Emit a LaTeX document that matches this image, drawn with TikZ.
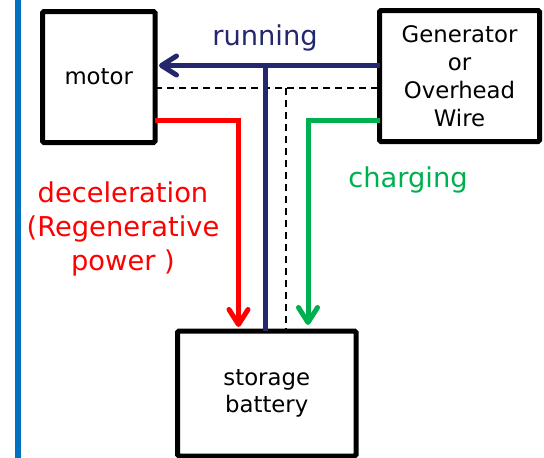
\documentclass[tikz,border=0pt]{standalone}
\usepackage{fontspec}
\setmainfont{DejaVu Sans}
\usetikzlibrary{arrows.meta}
\definecolor{navyc}{RGB}{36,38,110}
\definecolor{redc}{RGB}{255,0,0}
\definecolor{greenc}{RGB}{0,176,80}
\definecolor{bluec}{RGB}{0,112,192}
\begin{document}
\begin{tikzpicture}[x=1pt,y=-1pt,
  box/.style={draw=black,line width=5pt,rounded corners=1.5pt,inner sep=0pt,outer sep=0pt,
    align=center,font=\fontsize{22.8}{28}\selectfont},
  flow/.style={line width=5pt},
  tipa/.style={-{Straight Barb[length=15pt,width=19pt,round]}},
  dashline/.style={black,line width=1.6pt,dash pattern=on 7pt off 5pt},
  lab/.style={font=\fontsize{27.3}{34}\selectfont,align=center,inner sep=0pt}]
\useasboundingbox (0,0) rectangle (544,458);
\fill[white] (0,0) rectangle (544,458);
\draw[bluec,line width=5.5pt] (18,-5) -- (18,465);
\node[box,minimum width=112.5pt,minimum height=131pt] (motor) at (98.75,77) {motor};
\node[box,minimum width=160pt,minimum height=131pt] (gen) at (459.5,76) {Generator\\or\\Overhead\\Wire};
\node[box,minimum width=178.5pt,minimum height=125pt,font=\fontsize{22.8}{27}\selectfont] (batt) at (266.75,393.5) {storage\\battery};
\coordinate (yrun) at (0,65.5);
\coordinate (ydash) at (0,88);
\coordinate (ycol) at (0,120.5);
\coordinate (xrun) at (265.5,0);
\coordinate (xdash) at (286,0);
\coordinate (xred) at (238.5,0);
\coordinate (xgreen) at (308,0);
% dashed
\draw[dashline] (motor.east |- ydash) -- (gen.west |- ydash);
\draw[dashline] (xdash |- ydash) -- (xdash |- batt.north);
% running
\draw[navyc,flow,tipa] (gen.west |- yrun) -- ([xshift=4pt]motor.east |- yrun);
\draw[navyc,flow] (xrun |- yrun) -- (xrun |- batt.north);
% deceleration
\draw[redc,flow,tipa] (motor.east |- ycol) -- (xred |- ycol) -- ([yshift=4pt]xred |- batt.north);
% charging
\draw[greenc,flow,tipa] (gen.west |- ycol) -- (xgreen |- ycol) -- ([yshift=6pt]xgreen |- batt.north);
% labels
\node[lab,text=navyc,anchor=base] (lrun) at (265,45) {running};
\node[lab,text=greenc,anchor=base] (lchg) at (408,187) {charging};
\node[lab,text=redc] (ldec) at (123,229) {deceleration\\(Regenerative\\power )};
\end{tikzpicture}
\end{document}
